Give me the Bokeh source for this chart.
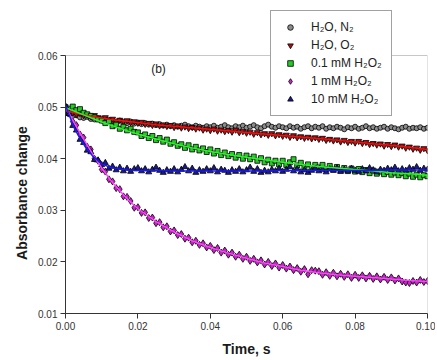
from bokeh.plotting import figure
from bokeh.models import Range1d, FixedTicker, PrintfTickFormatter, Legend, LegendItem, Label, BoxAnnotation
from bokeh.embed import file_html
from bokeh.resources import INLINE

# ---------------- data ----------------
TIME_STEP = 0.001
N_POINTS = 101
time_s = [round(i * TIME_STEP, 4) for i in range(N_POINTS)]

h2o_n2 = [0.0488, 0.0486, 0.0483, 0.0484, 0.0480, 0.0479, 0.0481, 0.0477, 0.0476, 0.0478,
          0.0474, 0.0476, 0.0472, 0.0473, 0.0471, 0.0474, 0.0470, 0.0469, 0.0472, 0.0468,
          0.0470, 0.0467, 0.0469, 0.0466, 0.0468, 0.0465, 0.0467, 0.0464, 0.0466, 0.0463,
          0.0465, 0.0462, 0.0464, 0.0466, 0.0463, 0.0461, 0.0464, 0.0462, 0.0460, 0.0463,
          0.0461, 0.0464, 0.0460, 0.0462, 0.0465, 0.0461, 0.0459, 0.0463, 0.0461, 0.0464,
          0.0460, 0.0462, 0.0465, 0.0461, 0.0459, 0.0463, 0.0466, 0.0462, 0.0460, 0.0463,
          0.0461, 0.0459, 0.0463, 0.0460, 0.0462, 0.0458, 0.0461, 0.0463, 0.0459, 0.0462,
          0.0460, 0.0463, 0.0458, 0.0461, 0.0459, 0.0462, 0.0460, 0.0457, 0.0461, 0.0459,
          0.0462, 0.0458, 0.0460, 0.0463, 0.0459, 0.0461, 0.0458, 0.0460, 0.0462, 0.0458,
          0.0461, 0.0459, 0.0457, 0.0460, 0.0462, 0.0458, 0.0460, 0.0459, 0.0461, 0.0458,
          0.0460]

h2o_o2 = [0.0492, 0.0490, 0.0489, 0.0486, 0.0488, 0.0484, 0.0485, 0.0482, 0.0484, 0.0480,
          0.0478, 0.0480, 0.0476, 0.0477, 0.0473, 0.0475, 0.0472, 0.0474, 0.0470, 0.0472,
          0.0469, 0.0471, 0.0467, 0.0469, 0.0465, 0.0468, 0.0464, 0.0466, 0.0463, 0.0465,
          0.0461, 0.0464, 0.0460, 0.0462, 0.0459, 0.0461, 0.0458, 0.0460, 0.0456, 0.0458,
          0.0455, 0.0458, 0.0454, 0.0456, 0.0453, 0.0455, 0.0452, 0.0456, 0.0451, 0.0453,
          0.0450, 0.0452, 0.0448, 0.0451, 0.0447, 0.0449, 0.0446, 0.0449, 0.0445, 0.0447,
          0.0444, 0.0446, 0.0442, 0.0445, 0.0441, 0.0443, 0.0440, 0.0442, 0.0439, 0.0441,
          0.0438, 0.0440, 0.0436, 0.0438, 0.0435, 0.0437, 0.0433, 0.0436, 0.0432, 0.0434,
          0.0431, 0.0434, 0.0430, 0.0432, 0.0428, 0.0430, 0.0427, 0.0429, 0.0425, 0.0428,
          0.0424, 0.0427, 0.0423, 0.0425, 0.0421, 0.0423, 0.0419, 0.0421, 0.0417, 0.0420,
          0.0416]

h2o2_01mM = [0.0500, 0.0497, 0.0501, 0.0494, 0.0496, 0.0489, 0.0486, 0.0483, 0.0480, 0.0476,
             0.0474, 0.0469, 0.0472, 0.0463, 0.0466, 0.0458, 0.0462, 0.0455, 0.0458, 0.0452,
             0.0451, 0.0444, 0.0447, 0.0440, 0.0444, 0.0436, 0.0440, 0.0433, 0.0437, 0.0429,
             0.0432, 0.0425, 0.0428, 0.0421, 0.0426, 0.0418, 0.0423, 0.0416, 0.0420, 0.0413,
             0.0418, 0.0410, 0.0415, 0.0407, 0.0412, 0.0405, 0.0409, 0.0402, 0.0407, 0.0400,
             0.0406, 0.0399, 0.0404, 0.0396, 0.0401, 0.0393, 0.0398, 0.0391, 0.0396, 0.0389,
             0.0396, 0.0388, 0.0393, 0.0399, 0.0387, 0.0392, 0.0384, 0.0389, 0.0382, 0.0388,
             0.0383, 0.0388, 0.0380, 0.0386, 0.0379, 0.0384, 0.0377, 0.0382, 0.0376, 0.0381,
             0.0375, 0.0380, 0.0374, 0.0378, 0.0372, 0.0377, 0.0371, 0.0375, 0.0370, 0.0374,
             0.0369, 0.0373, 0.0368, 0.0372, 0.0366, 0.0371, 0.0365, 0.0369, 0.0364, 0.0368,
             0.0366]

h2o2_1mM = [0.0499, 0.0489, 0.0472, 0.0465, 0.0447, 0.0441, 0.0423, 0.0418, 0.0400, 0.0396,
            0.0379, 0.0375, 0.0360, 0.0356, 0.0343, 0.0341, 0.0327, 0.0326, 0.0318, 0.0305,
            0.0306, 0.0295, 0.0296, 0.0285, 0.0286, 0.0275, 0.0277, 0.0267, 0.0269, 0.0259,
            0.0261, 0.0252, 0.0254, 0.0245, 0.0247, 0.0238, 0.0241, 0.0233, 0.0236, 0.0228,
            0.0231, 0.0223, 0.0227, 0.0218, 0.0222, 0.0214, 0.0218, 0.0210, 0.0214, 0.0206,
            0.0210, 0.0202, 0.0206, 0.0199, 0.0203, 0.0195, 0.0200, 0.0192, 0.0197, 0.0189,
            0.0194, 0.0187, 0.0191, 0.0184, 0.0188, 0.0181, 0.0186, 0.0176, 0.0184, 0.0183,
            0.0182, 0.0175, 0.0180, 0.0173, 0.0179, 0.0172, 0.0177, 0.0171, 0.0176, 0.0169,
            0.0175, 0.0169, 0.0174, 0.0168, 0.0173, 0.0167, 0.0172, 0.0166, 0.0171, 0.0165,
            0.0170, 0.0164, 0.0168, 0.0162, 0.0160, 0.0159, 0.0163, 0.0160, 0.0165, 0.0161,
            0.0163]

h2o2_10mM = [0.0502, 0.0487, 0.0464, 0.0455, 0.0437, 0.0431, 0.0416, 0.0413, 0.0398, 0.0397,
             0.0388, 0.0392, 0.0381, 0.0385, 0.0378, 0.0383, 0.0376, 0.0381, 0.0375, 0.0380,
             0.0382, 0.0376, 0.0380, 0.0374, 0.0379, 0.0383, 0.0377, 0.0373, 0.0378, 0.0375,
             0.0380, 0.0374, 0.0379, 0.0384, 0.0376, 0.0381, 0.0373, 0.0378, 0.0375, 0.0380,
             0.0376, 0.0382, 0.0374, 0.0379, 0.0377, 0.0373, 0.0378, 0.0375, 0.0380, 0.0374,
             0.0378, 0.0383, 0.0375, 0.0380, 0.0373, 0.0377, 0.0374, 0.0379, 0.0376, 0.0381,
             0.0375, 0.0379, 0.0384, 0.0376, 0.0380, 0.0374, 0.0378, 0.0373, 0.0377, 0.0381,
             0.0376, 0.0379, 0.0374, 0.0380, 0.0377, 0.0382, 0.0375, 0.0379, 0.0376, 0.0381,
             0.0377, 0.0375, 0.0380, 0.0376, 0.0382, 0.0378, 0.0374, 0.0379, 0.0377, 0.0381,
             0.0378, 0.0383, 0.0376, 0.0380, 0.0377, 0.0382, 0.0379, 0.0384, 0.0377, 0.0381,
             0.0379]

# fitted curves
fit_time = [0.0, 0.0025, 0.005, 0.0075, 0.01, 0.0125, 0.015, 0.0175, 0.02, 0.025, 0.03, 0.035,
            0.04, 0.045, 0.05, 0.055, 0.06, 0.065, 0.07, 0.075, 0.08, 0.085, 0.09, 0.095, 0.1]
fit_o2 = [0.0493, 0.0489, 0.0485, 0.0482, 0.0479, 0.0476, 0.0474, 0.0472, 0.0470, 0.0466, 0.0463,
          0.0460, 0.0457, 0.0454, 0.0451, 0.0448, 0.0445, 0.0442, 0.0439, 0.0436, 0.0433, 0.0429,
          0.0426, 0.0422, 0.0418]
fit_01mM = [0.0499, 0.0492, 0.0485, 0.0478, 0.0471, 0.0465, 0.0459, 0.0453, 0.0448, 0.0438, 0.0429,
            0.0421, 0.0414, 0.0408, 0.0403, 0.0398, 0.0393, 0.0389, 0.0385, 0.0382, 0.0379, 0.0376,
            0.0373, 0.0371, 0.0368]
fit_1mM = [0.0500, 0.0468, 0.0438, 0.0409, 0.0382, 0.0358, 0.0338, 0.0319, 0.0303, 0.0278, 0.0258,
           0.0241, 0.0228, 0.0217, 0.0207, 0.0198, 0.0191, 0.0184, 0.0179, 0.0175, 0.0172, 0.0170,
           0.0167, 0.0164, 0.0162]
fit_10mM = [0.0503, 0.0458, 0.0428, 0.0405, 0.0390, 0.0383, 0.0380, 0.0378, 0.0377, 0.0377, 0.0376,
            0.0376, 0.0376, 0.0376, 0.0376, 0.0376, 0.0377, 0.0377, 0.0377, 0.0377, 0.0377, 0.0377,
            0.0378, 0.0378, 0.0378]

x_ticks = [0.0, 0.02, 0.04, 0.06, 0.08, 0.10]
y_ticks = [0.01, 0.02, 0.03, 0.04, 0.05, 0.06]
X_MIN, X_MAX = 0.0, 0.1
Y_MIN, Y_MAX = 0.01, 0.06

labels = ["H\u2082O, N\u2082", "H\u2082O, O\u2082", "0.1 mM H\u2082O\u2082",
          "1 mM H\u2082O\u2082", "10 mM H\u2082O\u2082"]

FONT = "Liberation Sans"

# the plotting area (frame) is extended upwards so the legend can sit above the axes box
AXES_H = 258
FRAME_H = 307
y_top = Y_MIN + (Y_MAX - Y_MIN) * FRAME_H / AXES_H

p = figure(output_backend="svg", toolbar_location=None,
           frame_width=362, frame_height=FRAME_H,
           min_border_left=65, min_border_right=8, min_border_top=6, min_border_bottom=45,
           x_range=Range1d(X_MIN, X_MAX), y_range=Range1d(Y_MIN, y_top))
p.background_fill_color = "white"
p.border_fill_color = "white"
p.outline_line_color = None
p.xgrid.visible = False
p.ygrid.visible = False

for ax in (p.xaxis[0], p.yaxis[0]):
    ax.formatter = PrintfTickFormatter(format="%.2f")
    ax.minor_tick_line_color = None
    ax.major_tick_in = 0
    ax.major_tick_out = 5
    ax.axis_line_color = "#333333"
    ax.major_tick_line_color = "#333333"
    ax.major_label_text_font = FONT
    ax.major_label_text_font_size = "10px"
    ax.major_label_text_color = "#333333"
    ax.axis_label_text_font = FONT
    ax.axis_label_text_font_size = "14px"
    ax.axis_label_text_font_style = "bold"
    ax.axis_label_text_color = "#1a1a1a"
    ax.major_label_standoff = 3

p.xaxis[0].ticker = FixedTicker(ticks=x_ticks)
p.yaxis[0].ticker = FixedTicker(ticks=y_ticks)
p.yaxis[0].bounds = (Y_MIN, Y_MAX)
p.xaxis[0].axis_label = "Time, s"
p.xaxis[0].axis_label_standoff = 8
# trailing no-break spaces shift the (frame-centred) title down onto the axes box centre
p.yaxis[0].axis_label = "Absorbance change" + "\u00a0" * 17
p.yaxis[0].axis_label_standoff = 5

# axes box
p.add_layout(BoxAnnotation(left=X_MIN, right=X_MAX, bottom=Y_MIN, top=Y_MAX,
                           fill_alpha=0, line_color="#444444", line_width=1))

ms = 5
r_n2 = p.scatter(time_s, h2o_n2, marker="circle", size=ms, fill_color="#8c8c8c", line_color="black", line_width=0.8)
r_o2 = p.scatter(time_s, h2o_o2, marker="inverted_triangle", size=ms + 1, fill_color="#b01010", line_color="black", line_width=0.8)
r_01 = p.scatter(time_s, h2o2_01mM, marker="square", size=ms, fill_color="#22cc22", line_color="black", line_width=0.8)
r_1 = p.scatter(time_s, h2o2_1mM, marker="diamond", size=ms + 2, fill_color="#cc22cc", line_color="black", line_width=0.8)
r_10 = p.scatter(time_s, h2o2_10mM, marker="triangle", size=ms + 1, fill_color="#1a1a8c", line_color="black", line_width=0.8)

p.line(fit_time, fit_o2, line_color="#ee1111", line_width=1.5)
p.line(fit_time, fit_01mM, line_color="#33ee33", line_width=1.5)
p.line(fit_time, fit_1mM, line_color="#ff44ff", line_width=1.5)
p.line(fit_time, fit_10mM, line_color="#1a1aee", line_width=1.5)

p.add_layout(Label(x=0.0257, y=0.0573, text="(b)", text_align="center", text_baseline="middle",
                   text_font=FONT, text_font_size="12px", text_color="#222222"))

legend = Legend(items=[LegendItem(label=l, renderers=[r]) for l, r in
                       zip(labels, [r_n2, r_o2, r_01, r_1, r_10])],
                location=(205, 197), margin=0, padding=9, spacing=4,
                glyph_width=20, glyph_height=14, label_height=14, label_standoff=11,
                label_text_font=FONT, label_text_font_size="12px", label_text_color="#222222",
                border_line_color="#444444", border_line_width=1,
                background_fill_color="white", background_fill_alpha=1.0)
p.add_layout(legend, "center")

open("out.html", "w").write(file_html(p, INLINE))
